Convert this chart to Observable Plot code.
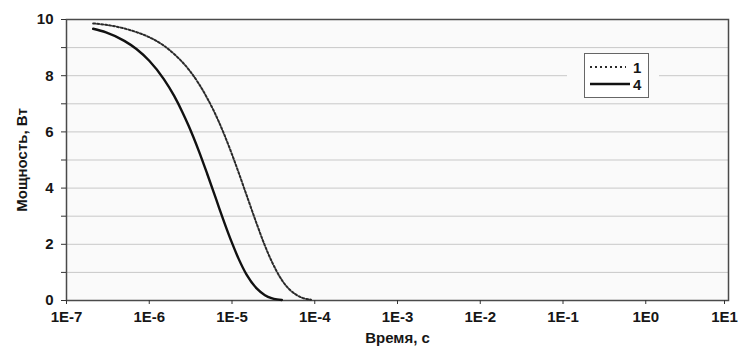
<!DOCTYPE html>
<html>
<head>
<meta charset="utf-8">
<script src="https://cdn.jsdelivr.net/npm/d3@7"></script>
<script src="https://cdn.jsdelivr.net/npm/@observablehq/plot@0.6"></script>
<style>
  body { margin: 0; background: #fff; }
  #wrap { position: relative; width: 739px; height: 351px; overflow: hidden; }
  #legendPad { position: absolute; left: 567px; top: 50px; width: 92px; height: 50px; background: #fafafa; }
  #legend { position: absolute; left: 584px; top: 53px; width: 65px; height: 45px; background: #fff; border: 1.5px solid #666; box-sizing: border-box; }
</style>
</head>
<body>
<div id="wrap"></div>
<script>
// Series "1" (dotted line): time, s / power, W
const time1 = [2.1e-7, 3e-7, 5e-7, 7e-7, 1e-6, 1.5e-6, 2e-6, 3e-6, 4e-6, 5e-6, 6e-6, 8e-6, 1e-5, 1.2e-5, 1.5e-5, 2e-5, 2.5e-5, 3e-5, 4e-5, 5e-5, 6e-5, 7e-5, 8e-5, 9e-5];
const power1 = [9.86, 9.81, 9.68, 9.55, 9.37, 9.07, 8.77, 8.22, 7.70, 7.21, 6.76, 5.93, 5.20, 4.56, 3.75, 2.71, 1.95, 1.41, 0.73, 0.38, 0.20, 0.10, 0.05, 0.03];
// Series "4" (solid line)
const time4 = [2.1e-7, 3e-7, 5e-7, 7e-7, 1e-6, 1.5e-6, 2e-6, 2.5e-6, 3e-6, 4e-6, 5e-6, 6e-6, 7e-6, 8e-6, 1e-5, 1.2e-5, 1.5e-5, 2e-5, 2.5e-5, 3e-5, 3.5e-5, 4e-5];
const power4 = [9.67, 9.54, 9.24, 8.95, 8.53, 7.88, 7.28, 6.72, 6.21, 5.30, 4.52, 3.86, 3.29, 2.81, 2.05, 1.49, 0.92, 0.42, 0.19, 0.085, 0.04, 0.02];

const seriesNames = ["1", "4"];
const xTicks = [1e-7, 1e-6, 1e-5, 1e-4, 1e-3, 1e-2, 1e-1, 1e0, 1e1];
const yTicks = [0, 1, 2, 3, 4, 5, 6, 7, 8, 9, 10];
const xLabel = "Время, с";
const yLabel = "Мощность, Вт";

const data1 = time1.map((t, i) => ({t, p: power1[i]}));
const data4 = time4.map((t, i) => ({t, p: power4[i]}));

const font = '"Liberation Sans", Arial, sans-serif';
const fmtX = d => "1E" + Math.round(Math.log10(d));

const chart = Plot.plot({
  width: 739,
  height: 351,
  marginLeft: 66,
  marginRight: 11,
  marginTop: 19,
  marginBottom: 51,
  style: { fontFamily: font, fontSize: "15px", fontWeight: "bold", color: "#161616", background: "#fff", overflow: "visible" },
  x: { type: "log", domain: [1e-7, 10] },
  y: { domain: [0, 10] },
  marks: [
    Plot.frame({ fill: "#fafafa", stroke: null }),
    Plot.gridY(yTicks, { stroke: "#c8c8c8", strokeOpacity: 1, strokeWidth: 1 }),
    Plot.frame({ stroke: "#4a4a4a", strokeWidth: 1.5 }),
    Plot.axisY(yTicks, {
      tickFormat: d => d % 2 === 0 ? String(d) : "",
      tickSize: 5, tickPadding: 8, stroke: "#333",
      label: yLabel, labelAnchor: "center", labelArrow: "none", labelOffset: 50
    }),
    Plot.axisX(xTicks.slice(0, -1), {
      tickFormat: fmtX,
      tickSize: 4, tickPadding: 7, stroke: "#333",
      label: xLabel, labelAnchor: "center", labelArrow: "none", labelOffset: 42
    }),
    Plot.axisX(xTicks.slice(-1), {
      tickFormat: fmtX, dx: -4,
      tickSize: 4, tickPadding: 7, stroke: "#333", label: null
    }),
    Plot.line(data1, { x: "t", y: "p", curve: "monotone-x", stroke: "#2a2a2a", strokeWidth: 2, strokeDasharray: "2,2" }),
    Plot.line(data4, { x: "t", y: "p", curve: "monotone-x", stroke: "#111", strokeWidth: 2.4 })
  ]
});
const wrap = document.getElementById("wrap");
wrap.appendChild(chart);

const pad = document.createElement("div");
pad.id = "legendPad";
wrap.appendChild(pad);

const legend = document.createElement("div");
legend.id = "legend";
legend.innerHTML = `
<svg width="63" height="43" style="position:absolute;left:0;top:0">
  <line x1="5" x2="41" y1="13" y2="13" stroke="#2a2a2a" stroke-width="2" stroke-dasharray="2,3"/>
  <line x1="5" x2="45" y1="30" y2="30" stroke="#111" stroke-width="2.4"/>
  <text x="48" y="18.5" font-family='${font}' font-weight="bold" font-size="15" fill="#161616">${seriesNames[0]}</text>
  <text x="48" y="35.5" font-family='${font}' font-weight="bold" font-size="15" fill="#161616">${seriesNames[1]}</text>
</svg>`;
wrap.appendChild(legend);
</script>
</body>
</html>
